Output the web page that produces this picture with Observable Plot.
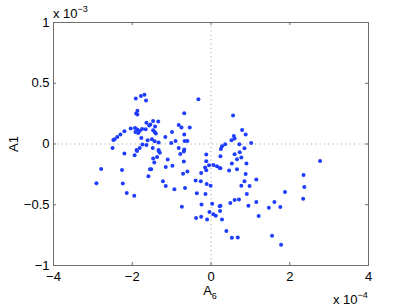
<!DOCTYPE html>
<html>
<head>
<meta charset="utf-8">
<script src="https://cdn.jsdelivr.net/npm/d3@7"></script>
<script src="https://cdn.jsdelivr.net/npm/@observablehq/plot@0.6"></script>
<style>
  html, body { margin: 0; padding: 0; background: white; }
</style>
</head>
<body>
<div id="chart"></div>
<script>
// A6 values (units of 1e-4) and A1 values (units of 1e-3)
const a6 = [
  -1.91, -1.78, -1.69, -1.65, -1.87, -1.90, -1.87, -1.64, -1.57, -1.93,
  -2.04, -1.87, -1.75, -1.66, -1.92, -1.81, -1.85, -2.20, -2.30, -2.38,
  -2.45, -2.48, -1.77, -1.61, -1.74, -1.64, -2.50, -1.81, -1.89,
  -0.32, -0.68, -1.47, -1.34, -0.82, -0.75, -1.42, -0.54, -1.54, -1.47,
  -1.43, -1.40, -0.99, -0.68, -1.16, -1.50, -1.43, -1.33, -0.90, -1.01,
  -0.67, -0.60, -1.48, -1.33, -0.82, -0.68,
  0.56, 0.79, 0.88, 0.58, 0.60, 0.52, 1.02, 0.72, 0.36, 0.28, 0.85, 0.25,
  -2.20, -1.94, -1.88, -2.79, -2.26, -1.55, -1.59, -2.91, -2.24, -2.14, -1.95,
  -1.47, -1.37, -1.30, -1.33, -1.44, -1.10, -0.78, -0.69, -0.69, -0.12,
  -1.15, -0.98, -0.12, -1.52, -0.71, -0.60, -0.15, -0.05, 0.06, 0.15,
  0.22, -0.25, -0.12, -1.22, -1.15, -0.39, -0.26, -0.11, -0.01, -0.93,
  -0.66, -0.36, -0.14, -0.24, 0.03, -0.74, 0.22,
  0.24, 0.60, 0.73, 0.66, 0.77, 0.53, 0.90, 0.24, 0.46, 0.66, 0.88, 0.85,
  1.15, 0.77, 0.98, 0.91, 1.88, 0.60, 0.71, 0.49, 1.15, 1.61, 0.24, 0.95,
  1.47, 1.76,
  -0.04, 0.23, 0.06, 0.12, -0.38, -0.25, -0.10, 0.28, 1.21, 0.39, 0.53, 0.68,
  2.77, 2.35, 2.37, 2.34, 1.55, 1.78
];
const a1 = [
  0.375, 0.396, 0.405, 0.358, 0.273, 0.251, 0.243, 0.174, 0.152, 0.132,
  0.127, 0.119, 0.124, 0.122, 0.099, 0.108, 0.091, 0.105, 0.078, 0.058,
  0.039, 0.033, 0.050, 0.031, -0.005, -0.008, -0.033, -0.033, -0.049,
  0.369, 0.254, 0.190, 0.185, 0.157, 0.136, 0.144, 0.136, 0.160, 0.113,
  0.099, 0.086, 0.099, 0.078, 0.058, 0.039, 0.023, 0.012, 0.025, 0.009,
  0.025, 0.025, -0.033, -0.049, -0.033, -0.046,
  0.235, 0.116, 0.078, 0.066, 0.045, 0.031, 0.009, -0.002, -0.002, -0.019, -0.035, -0.041,
  -0.079, -0.093, -0.057, -0.206, -0.214, -0.208, -0.266, -0.324, -0.326, -0.404, -0.425,
  -0.120, -0.107, -0.071, -0.057, -0.153, -0.128, -0.082, -0.062, -0.145, -0.087,
  -0.189, -0.178, -0.142, -0.208, -0.244, -0.227, -0.194, -0.175, -0.173, -0.184,
  -0.198, -0.239, -0.216, -0.307, -0.346, -0.301, -0.307, -0.329, -0.343, -0.373,
  -0.362, -0.406, -0.412, -0.497, -0.491, -0.516, -0.513,
  -0.101, -0.085, -0.068, -0.126, -0.112, -0.161, -0.161, -0.200, -0.219, -0.208, -0.247, -0.307,
  -0.293, -0.343, -0.346, -0.412, -0.395, -0.461, -0.456, -0.486, -0.478, -0.478, -0.508, -0.508,
  -0.524, -0.519,
  -0.560, -0.552, -0.579, -0.590, -0.610, -0.598, -0.621, -0.621, -0.593, -0.717, -0.771, -0.769,
  -0.140, -0.255, -0.354, -0.450, -0.755, -0.829
];
const xTicks = [-4, -2, 0, 2, 4];
const xTickLabels = ["\u22124", "\u22122", "0", "2", "4"];
const yTicks = [-1, -0.5, 0, 0.5, 1];
const yTickLabels = ["\u22121", "\u22120.5", "0", "0.5", "1"];

const points = a6.map((x, i) => ({x, y: a1[i]}));

const W = 407, H = 306;
const mL = 53, mR = 39, mT = 22, mB = 41;
const pw = W - mL - mR, ph = H - mT - mB;
const axisColor = "#6e6e6e";
const font = "'Liberation Sans', Arial, Helvetica, sans-serif";

const svg = Plot.plot({
  width: W, height: H,
  marginLeft: mL, marginRight: mR, marginTop: mT, marginBottom: mB,
  style: {fontFamily: font, fontSize: "13px", background: "white", color: "black"},
  x: {domain: [-4, 4], ticks: xTicks, tickSize: 0, tickPadding: 6,
      tickFormat: d => xTickLabels[xTicks.indexOf(d)], label: null},
  y: {domain: [-1, 1], ticks: yTicks, tickSize: 0, tickPadding: 4,
      tickFormat: d => yTickLabels[yTicks.indexOf(d)], label: null},
  marks: [
    Plot.ruleX([0], {stroke: "#9a9a9a", strokeDasharray: "1,3.3"}),
    Plot.ruleY([0], {stroke: "#9a9a9a", strokeDasharray: "1,3.3"}),
    Plot.dot(points, {x: "x", y: "y", r: 2, fill: "#1f3dff", stroke: "none"}),
    Plot.frame({stroke: axisColor}),
    Plot.tickX(xTicks, {x: d => d, insetTop: ph - 3, stroke: axisColor}),
    Plot.tickX(xTicks, {x: d => d, insetBottom: ph - 3, stroke: axisColor}),
    Plot.tickY(yTicks, {y: d => d, insetRight: pw - 3, stroke: axisColor}),
    Plot.tickY(yTicks, {y: d => d, insetLeft: pw - 3, stroke: axisColor})
  ]
});

const s = d3.select(svg);
// exponent label, top-left
const t1 = s.append("text").attr("x", 53).attr("y", 18)
  .attr("text-anchor", "start")
  .attr("font-family", font).attr("font-size", 13).attr("fill", "black");
t1.append("tspan").text("x 10");
t1.append("tspan").attr("font-size", 9).attr("dy", -6).text("\u22123");

// exponent label, bottom-right
const t2 = s.append("text").attr("x", 333).attr("y", 304)
  .attr("text-anchor", "start")
  .attr("font-family", font).attr("font-size", 13).attr("fill", "black");
t2.append("tspan").text("x 10");
t2.append("tspan").attr("font-size", 9).attr("dy", -6).text("\u22124");

// x axis label A6
const t3 = s.append("text").attr("x", 210).attr("y", 295)
  .attr("text-anchor", "middle")
  .attr("font-family", font).attr("font-size", 13).attr("fill", "black");
t3.append("tspan").text("A");
t3.append("tspan").attr("font-size", 9).attr("dy", 4).text("6");

// y axis label A1
s.append("text").attr("transform", "translate(18,144) rotate(-90)")
  .attr("text-anchor", "middle")
  .attr("font-family", font).attr("font-size", 13).attr("fill", "black")
  .text("A1");

document.getElementById("chart").appendChild(svg);
</script>
</body>
</html>
